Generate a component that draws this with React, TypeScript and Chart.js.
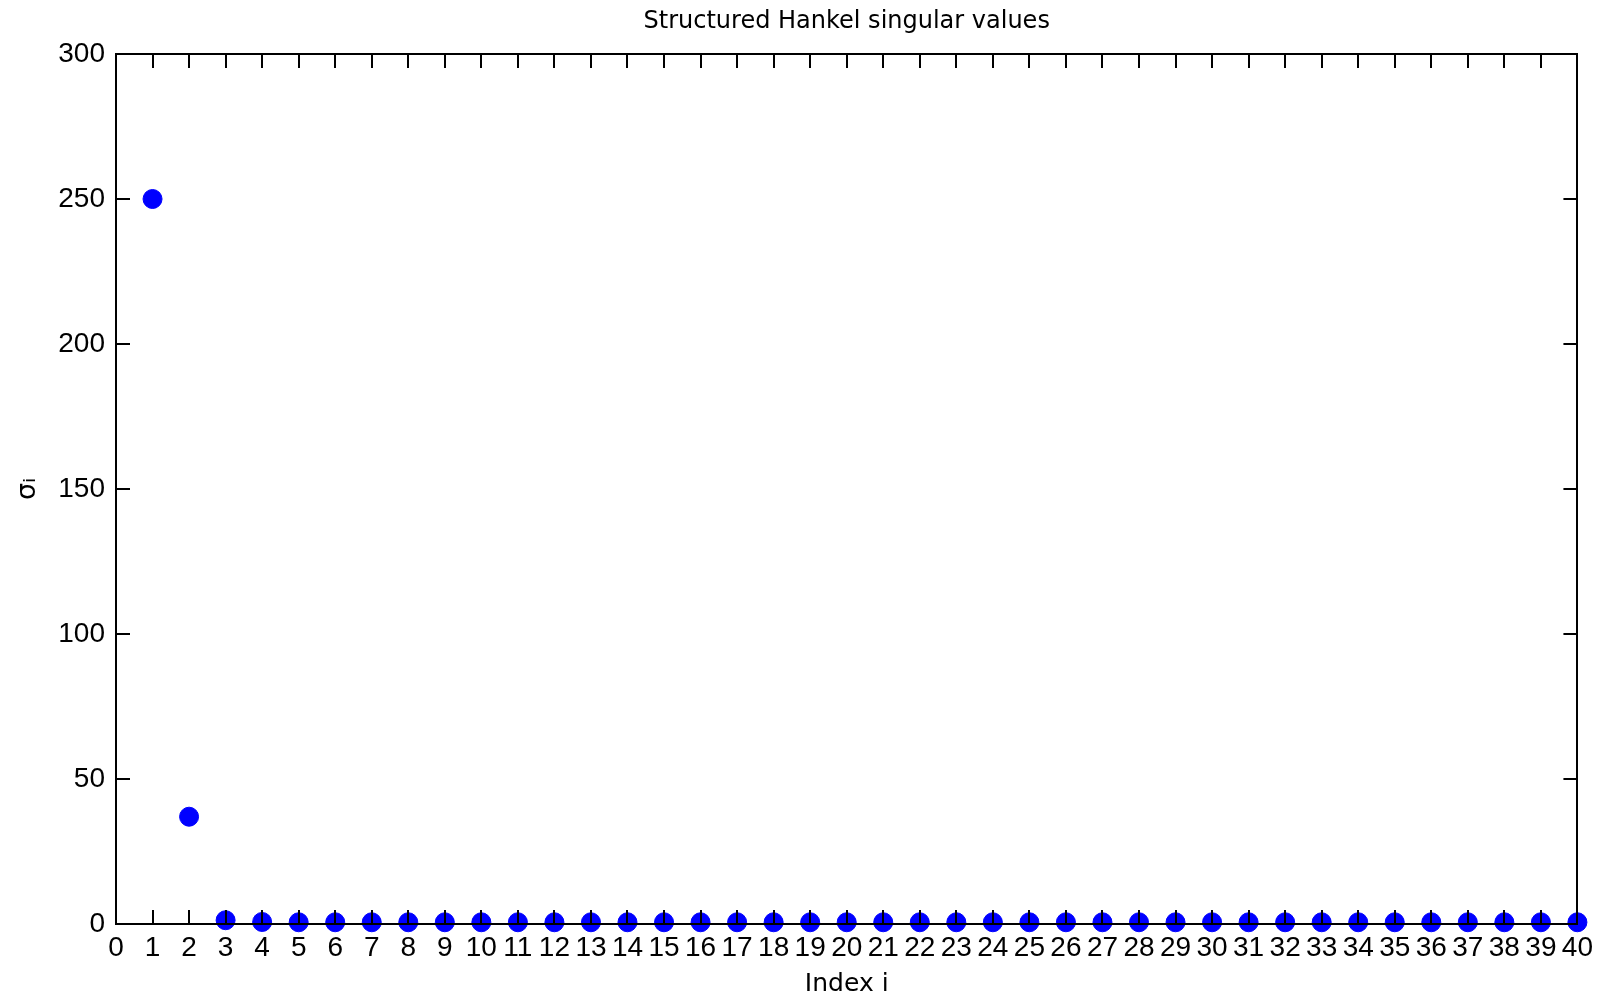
import React, { useEffect, useRef } from "react";
import { Chart, registerables } from "chart.js";

Chart.register(...registerables);

const chartTitle = "Structured Hankel singular values";
const xAxisTitle = "Index i";
const yAxisTitle = "σᵢ";

const indices = [
  1, 2, 3, 4, 5, 6, 7, 8, 9, 10, 11, 12, 13, 14, 15, 16, 17, 18, 19, 20,
  21, 22, 23, 24, 25, 26, 27, 28, 29, 30, 31, 32, 33, 34, 35, 36, 37, 38, 39, 40,
];
const singularValues = [
  250, 37, 1.3, 0.7, 0.6, 0.6, 0.6, 0.6, 0.6, 0.6, 0.6, 0.6, 0.6, 0.6, 0.6, 0.6, 0.6, 0.6, 0.6, 0.6,
  0.6, 0.6, 0.6, 0.6, 0.6, 0.6, 0.6, 0.6, 0.6, 0.6, 0.6, 0.6, 0.6, 0.6, 0.6, 0.6, 0.6, 0.6, 0.6, 0.6,
];

const xMin = 0;
const xMax = 40;
const yMin = 0;
const yMax = 300;
const yStep = 50;

const tickFont = '"Liberation Sans", Arial, sans-serif';
const textFont = '"DejaVu Sans", "Liberation Sans", sans-serif';

const frameTicks = {
  id: "frameTicks",
  afterDatasetsDraw(chart: any) {
    const { ctx, chartArea } = chart;
    const { left, right, top, bottom } = chartArea;
    const xs = chart.scales.x;
    const ys = chart.scales.y;
    const tl = 14;
    ctx.save();
    ctx.strokeStyle = "#000";
    ctx.lineWidth = 2;
    ctx.beginPath();
    ctx.rect(Math.round(left), Math.round(top), Math.round(right - left), Math.round(bottom - top));
    ctx.stroke();
    ctx.beginPath();
    xs.ticks.forEach((t: any) => {
      const px = Math.round(xs.getPixelForValue(t.value));
      ctx.moveTo(px, bottom);
      ctx.lineTo(px, bottom - tl);
      ctx.moveTo(px, top);
      ctx.lineTo(px, top + tl);
    });
    ys.ticks.forEach((t: any) => {
      const py = Math.round(ys.getPixelForValue(t.value));
      ctx.moveTo(left, py);
      ctx.lineTo(left + tl, py);
      ctx.moveTo(right, py);
      ctx.lineTo(right - tl, py);
    });
    ctx.stroke();
    ctx.restore();
  },
};

export default function App() {
  const canvasRef = useRef<HTMLCanvasElement | null>(null);

  useEffect(() => {
    document.body.style.margin = "0";
    const canvas = canvasRef.current;
    if (!canvas) return;
    const data = indices.map((x, i) => ({ x, y: singularValues[i] }));
    const chart = new Chart(canvas, {
      type: "scatter",
      data: {
        datasets: [
          {
            data,
            backgroundColor: "#0000ff",
            borderColor: "#0000ff",
            pointRadius: 9.5,
            pointBorderWidth: 1,
            clip: false as any,
          },
        ],
      },
      plugins: [frameTicks],
      options: {
        animation: false,
        responsive: true,
        maintainAspectRatio: false,
        layout: { padding: { left: 0, right: 22, top: 0, bottom: 0 } },
        plugins: {
          legend: { display: false },
          tooltip: { enabled: false },
          title: {
            display: true,
            fullSize: false,
            text: chartTitle,
            color: "#000",
            font: { family: textFont, size: 24, weight: "normal", lineHeight: 1.2 },
            padding: { top: 7, bottom: 18.2 },
          },
        },
        scales: {
          x: {
            type: "linear",
            min: xMin,
            max: xMax,
            afterFit: (scale: any) => {
              scale.height = 75;
            },
            grid: { display: false, drawTicks: false },
            border: { display: false },
            ticks: {
              stepSize: 1,
              autoSkip: false,
              maxRotation: 0,
              minRotation: 0,
              padding: 7,
              color: "#000",
              font: { family: tickFont, size: 28, lineHeight: 1.2 },
            },
            title: {
              display: true,
              text: xAxisTitle,
              color: "#000",
              font: { family: textFont, size: 25, lineHeight: 1.2 },
              padding: { top: 0, bottom: 0 },
            },
          },
          y: {
            type: "linear",
            min: yMin,
            max: yMax,
            afterFit: (scale: any) => {
              scale.width = 116;
            },
            grid: { display: false, drawTicks: false },
            border: { display: false },
            ticks: {
              stepSize: yStep,
              padding: 11,
              color: "#000",
              font: { family: tickFont, size: 28, lineHeight: 1.2 },
            },
            title: {
              display: true,
              text: yAxisTitle,
              color: "#000",
              font: { family: textFont, size: 27, lineHeight: 1.2 },
              padding: { top: 12, bottom: 0 },
            },
          },
        },
      },
    });
    return () => chart.destroy();
  }, []);

  return (
    <div style={{ width: 1600, height: 999, position: "relative", background: "#fff" }}>
      <canvas ref={canvasRef} />
    </div>
  );
}
